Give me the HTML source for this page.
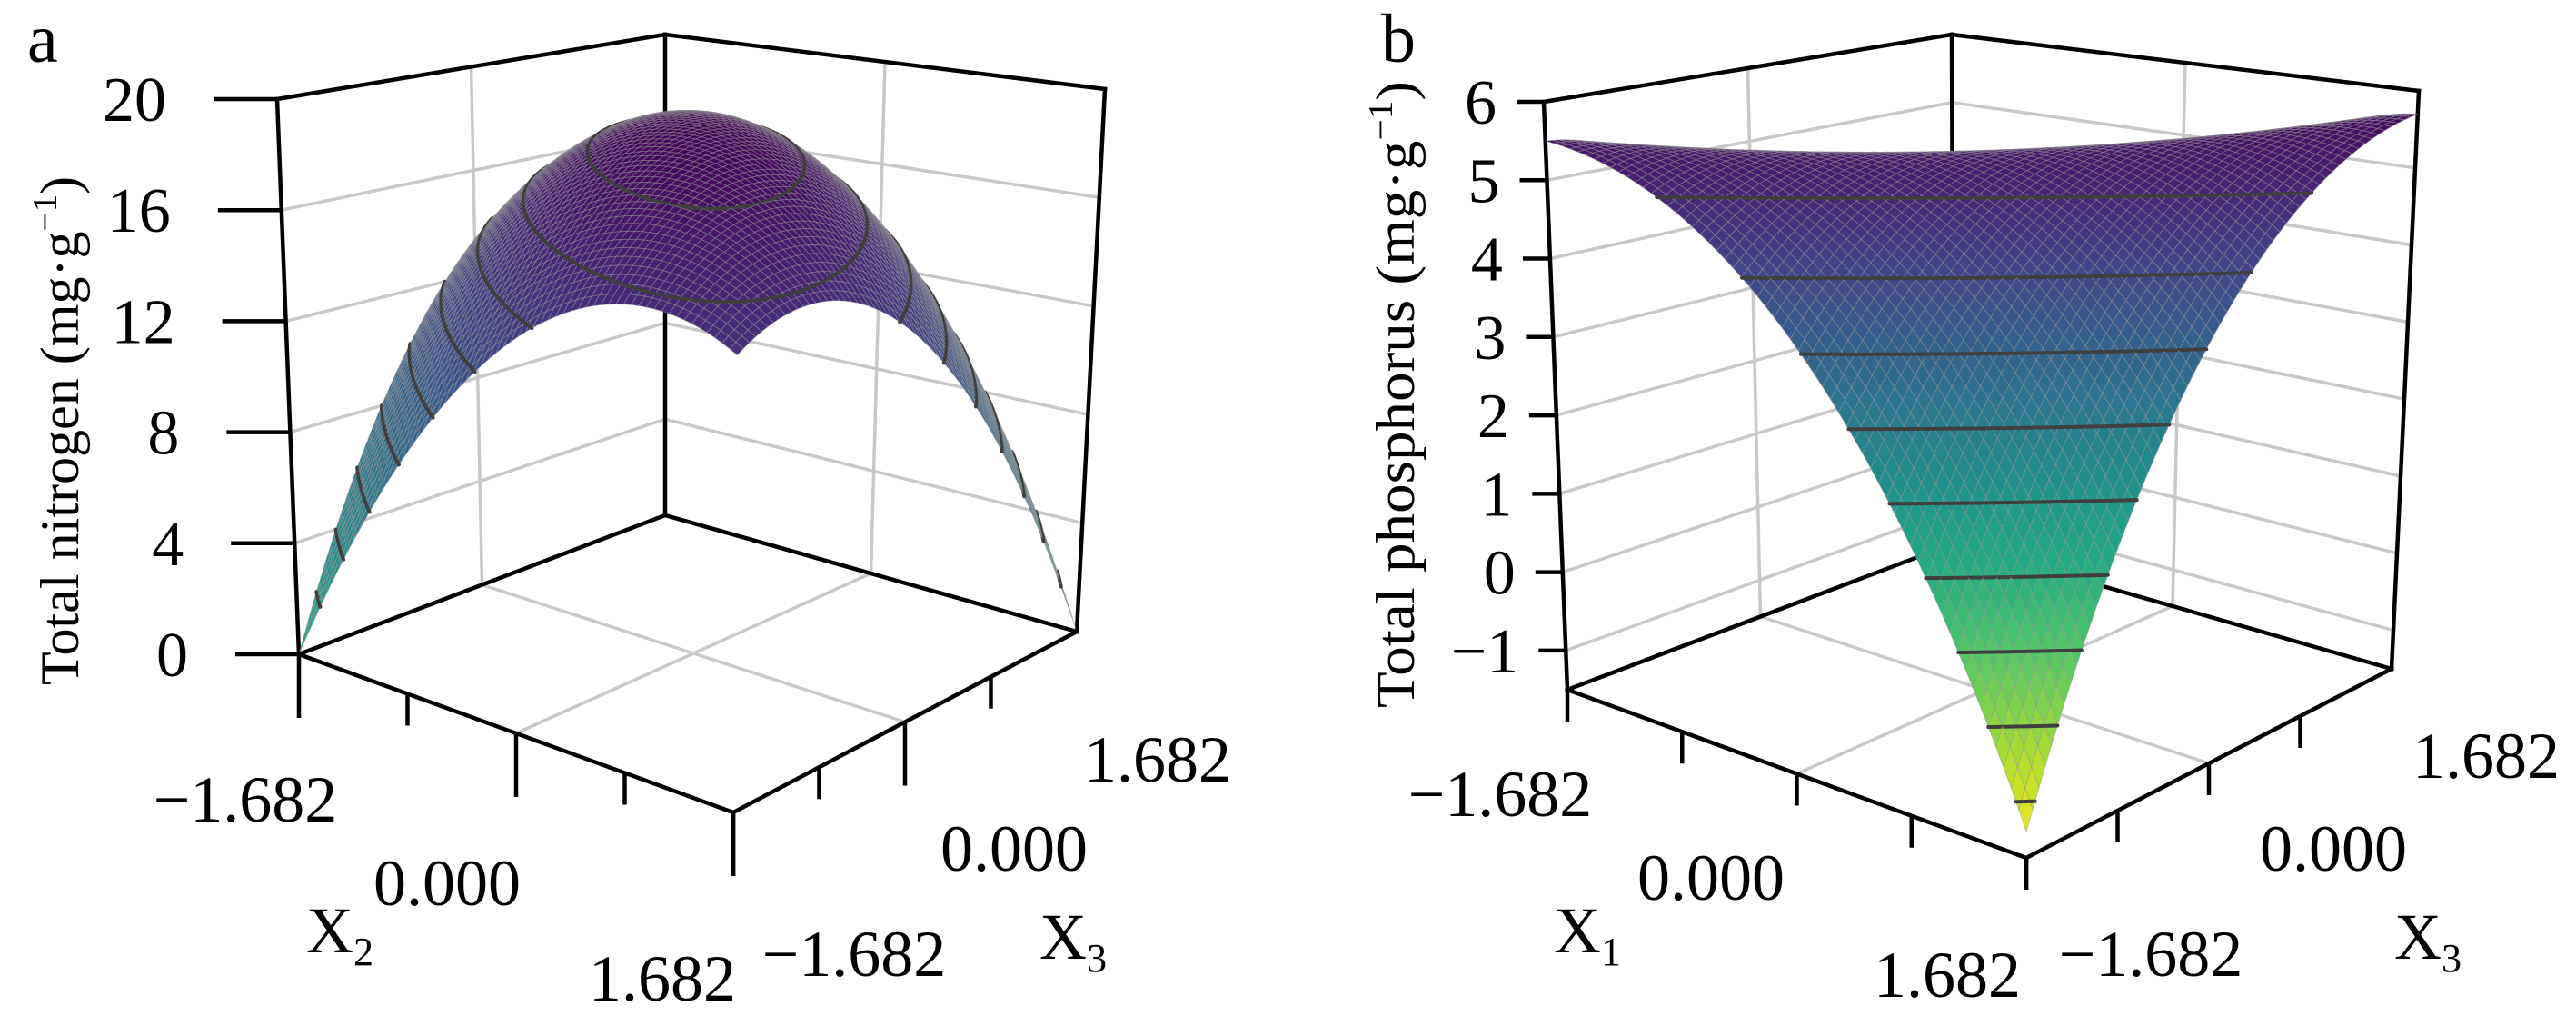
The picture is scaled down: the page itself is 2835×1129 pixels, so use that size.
<!DOCTYPE html>
<html><head><meta charset="utf-8">
<style>
html,body{margin:0;padding:0;background:#fff;}
svg{display:block;font-family:"Liberation Serif",serif;}
</style></head>
<body>
<svg id="chart" xmlns="http://www.w3.org/2000/svg" width="2835" height="1129" viewBox="0 0 2835 1129">
<rect width="2835" height="1129" fill="#fff"/>
<g id="pa"></g>
<g id="pb"></g>
<text x="30" y="68" font-size="76">a</text>
<text x="1520" y="68" font-size="76">b</text>
<text transform="translate(86,474) rotate(-90)" text-anchor="middle" font-size="60" textLength="560" lengthAdjust="spacingAndGlyphs">Total nitrogen (mg·g<tspan font-size="38" dy="-24">−1</tspan><tspan dy="24">)</tspan></text>
<text transform="translate(1556,434) rotate(-90)" text-anchor="middle" font-size="60" textLength="690" lengthAdjust="spacingAndGlyphs">Total phosphorus (mg·g<tspan font-size="38" dy="-24">−1</tspan><tspan dy="24">)</tspan></text>
</svg>
<script>
// ---- data ----
const xTickLabels = ["−1.682", "0.000", "1.682"];
const nitrogenTicks = [0, 4, 8, 12, 16, 20];
const phosphorusTicks = [-1, 0, 1, 2, 3, 4, 5, 6];
// coded-variable quadratic model coefficients: [b0, bA, bB, bAA, bBB, bAB]
const nitrogenCoef = [19.3, 0, 0, -5.95, -5.95, -7.4];   // A = X2, B = X3
const phosphorusCoef = [5.4, 0.05, 0.05, -1.6, -1.6, 3.4]; // A = X1, B = X3
const nitrogenLevels = [2, 4, 6, 8, 10, 12, 14, 16, 18];
const phosphorusLevels = [-0.9, -0.15, 0.6, 1.35, 2.1, 2.85, 3.6, 4.35, 5.1];

const NS = "http://www.w3.org/2000/svg";
const vir = ["#440154","#482475","#414487","#355f8d","#2a788e","#21918c","#22a884","#44bf70","#7ad151","#bddf26","#fde725"];
function hex(h){return [parseInt(h.substr(1,2),16),parseInt(h.substr(3,2),16),parseInt(h.substr(5,2),16)];}
function viridis(t){t=Math.max(0,Math.min(1,t));const f=t*10,i=Math.min(9,Math.floor(f)),r=f-i;const a=hex(vir[i]),b=hex(vir[i+1]);
 return "rgb("+a.map((v,k)=>Math.round(v+(b[k]-v)*r)).join(",")+")";}
function mk(tag,attrs,parent){const e=document.createElementNS(NS,tag);for(const k in attrs)e.setAttribute(k,attrs[k]);parent.appendChild(e);return e;}

function makePanel(g, cfg){
  const {fl,tp,zmin,zmax,coef,levels,ticks,tLo,tHi,tickLen,tickGap,xticks,labelsA,labelsB,nameA,nameB} = cfg;
  function bil(c,a,b){
    return [c.L[0]*(1-a)*(1-b)+c.F[0]*a*(1-b)+c.R[0]*a*b+c.B[0]*(1-a)*b,
            c.L[1]*(1-a)*(1-b)+c.F[1]*a*(1-b)+c.R[1]*a*b+c.B[1]*(1-a)*b];}
  function P(a,b,z){const w=(z-zmin)/(zmax-zmin);const p=bil(fl,a,b),q=bil(tp,a,b);return [p[0]+(q[0]-p[0])*w,p[1]+(q[1]-p[1])*w];}
  function model(a,b){const s=2*a-1,t=2*b-1;return coef[0]+coef[1]*s+coef[2]*t+coef[3]*s*s+coef[4]*t*t+coef[5]*s*t;}
  const pts=a=>a.map(p=>p[0].toFixed(1)+","+p[1].toFixed(1)).join(" ");
  const grid="#c8c8c8";
  const back=mk("g",{},g);
  
  
  ticks.forEach(z=>{
    if(z===zmax) return;
    const l=mk("polyline",{points:pts([P(0,0,z),P(0,1,z),P(1,1,z)]),fill:"none",stroke:grid,"stroke-width":3.5},back);
    
    
  });
  [[P(0,0.5,zmin),P(0,0.5,zmax)],[P(0.5,1,zmin),P(0.5,1,zmax)],[P(0,0.5,zmin),P(1,0.5,zmin)],[P(0.5,0,zmin),P(0.5,1,zmin)]].forEach(s=>{
    const l=mk("line",{x1:s[0][0],y1:s[0][1],x2:s[1][0],y2:s[1][1],stroke:grid,"stroke-width":3.5},back);
    
    
  });
  const bk="#000";
  [[P(0,0,zmin),P(0,1,zmin)],[P(0,1,zmin),P(1,1,zmin)],[P(0,1,zmin),P(0,1,zmax)],[P(0,0,zmax),P(0,1,zmax)],[P(0,1,zmax),P(1,1,zmax)],[P(1,1,zmin),P(1,1,zmax)],[P(0,0,zmin),P(0,0,zmax)]].forEach(s=>{
    const l=mk("line",{x1:s[0][0],y1:s[0][1],x2:s[1][0],y2:s[1][1],stroke:bk,"stroke-width":4.5,"stroke-linecap":"square"},back);
    
    
  });
  ticks.forEach(z=>{
    const p=P(0,0,z);
    const l=mk("line",{x1:p[0]-tickLen,y1:p[1],x2:p[0],y2:p[1],stroke:bk,"stroke-width":4.5},g);
    
    
    const t=mk("text",{x:p[0]-tickLen-tickGap,y:p[1]+24,"text-anchor":"end","font-size":70},g);
    t.textContent=String(z).replace("-","−");
    
    
  });
  const N=60, surf=mk("g",{},g);
  
  
  const items=[];
  for(let i=0;i<N;i++)for(let j=0;j<N;j++){
    const a0=i/N,a1=(i+1)/N,b0=j/N,b1=(j+1)/N;
    const z00=model(a0,b0),z10=model(a1,b0),z11=model(a1,b1),z01=model(a0,b1);
    const zc=(z00+z10+z11+z01)/4;
    const corners=[[a0,b0,z00],[a1,b0,z10],[a1,b1,z11],[a0,b1,z01]];
    const segs=[];
    levels.forEach(L=>{
      const cr=[];
      for(let k=0;k<4;k++){const A=corners[k],B=corners[(k+1)%4];
        if((A[2]-L)*(B[2]-L)<0){const r=(L-A[2])/(B[2]-A[2]);cr.push(P(A[0]+(B[0]-A[0])*r,A[1]+(B[1]-A[1])*r,L));}}
      if(cr.length>=2)segs.push([cr[0],cr[1]]);
      if(cr.length===4)segs.push([cr[2],cr[3]]);
    });
    items.push({d:(a0+a1)/2+(1-(b0+b1)/2),poly:corners.map(c=>P(c[0],c[1],c[2])),col:viridis(tLo+(cfg.ctop-zc)/(cfg.ctop-cfg.cbot)*(tHi-tLo)),segs});
  }
  items.sort((p,q)=>p.d-q.d);
  items.forEach(it=>{
    const q=mk("polygon",{points:pts(it.poly),fill:it.col,stroke:"rgba(150,150,150,0.5)","stroke-width":0.9},surf);
    
    
    it.segs.forEach(s=>{
      const l=mk("line",{x1:s[0][0],y1:s[0][1],x2:s[1][0],y2:s[1][1],stroke:"#3f3f3f","stroke-width":4,"stroke-linecap":"round"},surf);
      
      
    });
  });
  [[P(0,0,zmin),P(1,0,zmin)],[P(1,0,zmin),P(1,1,zmin)]].forEach(s=>{
    const l=mk("line",{x1:s[0][0],y1:s[0][1],x2:s[1][0],y2:s[1][1],stroke:bk,"stroke-width":4.5,"stroke-linecap":"square"},g);
    
    
  });
  [0,0.25,0.5,0.75,1].forEach((f,k)=>{
    const len=(k%2===0)?xticks[0]:xticks[1];
    const p=P(f,0,zmin);
    const l=mk("line",{x1:p[0],y1:p[1],x2:p[0],y2:p[1]+len,stroke:bk,"stroke-width":4.5},g);
    
    
    if(k<4){const p2=P(1,f,zmin);
    const l2=mk("line",{x1:p2[0],y1:p2[1],x2:p2[0],y2:p2[1]+len,stroke:bk,"stroke-width":4.5},g);
    
    }
  });
  const fs=72;
  labelsA.forEach((p,k)=>{const t=mk("text",{x:p[0],y:p[1]+25,"text-anchor":"middle","font-size":fs},g);t.textContent=xTickLabels[k];
    
    });
  labelsB.forEach((p,k)=>{const t=mk("text",{x:p[0],y:p[1]+25,"text-anchor":"middle","font-size":fs},g);t.textContent=xTickLabels[k];
    
    });
  [[nameA,cfg.titleA[0],cfg.titleA[1],'x-axis-a-title'],[nameB,cfg.titleB[0],cfg.titleB[1],'x-axis-b-title']].forEach(n=>{
    const t=mk("text",{x:n[1]-20,y:n[2]+25,"font-size":fs},g);
    
    
    t.appendChild(document.createTextNode("X"));
    const s=mk("tspan",{"font-size":44,dy:14},t);s.textContent=n[0];
  });
}

makePanel(document.getElementById("pa"),{
  fl:{L:[329,720],F:[807,894],R:[1185,695],B:[732,567]},
  tp:{L:[305,109],F:[813,214],R:[1216,98],B:[732,38]},
  zmin:0,zmax:20,coef:nitrogenCoef,levels:nitrogenLevels,ticks:nitrogenTicks,
  ctop:19.5,cbot:-13,tLo:0,tHi:1,tickLen:70,tickGap:52,xticks:[70,35],
  labelsA:[[270,879],[492,971],[729,1076]],labelsB:[[940,1049],[1116,933],[1274,835]],
  nameA:"2",nameB:"3",titleA:[357,1023],titleB:[1164,1030]
});
makePanel(document.getElementById("pb"),{
  fl:{L:[1725,759],F:[2230,944],R:[2632,736],B:[2150,598]},
  tp:{L:[1699,112],F:[2235,224],R:[2662,100],B:[2148,38]},
  zmin:-1.5,zmax:6,coef:phosphorusCoef,levels:phosphorusLevels,ticks:phosphorusTicks,
  ctop:5.9,cbot:-1.35,tLo:0,tHi:1,tickLen:30,tickGap:22,xticks:[35,35],
  labelsA:[[1651,873],[1883,965],[2143,1072]],labelsB:[[2367,1049],[2568,933],[2736,831]],
  nameA:"1",nameB:"3",titleA:[1730,1023],titleB:[2655,1030]
});
</script>
</body></html>
